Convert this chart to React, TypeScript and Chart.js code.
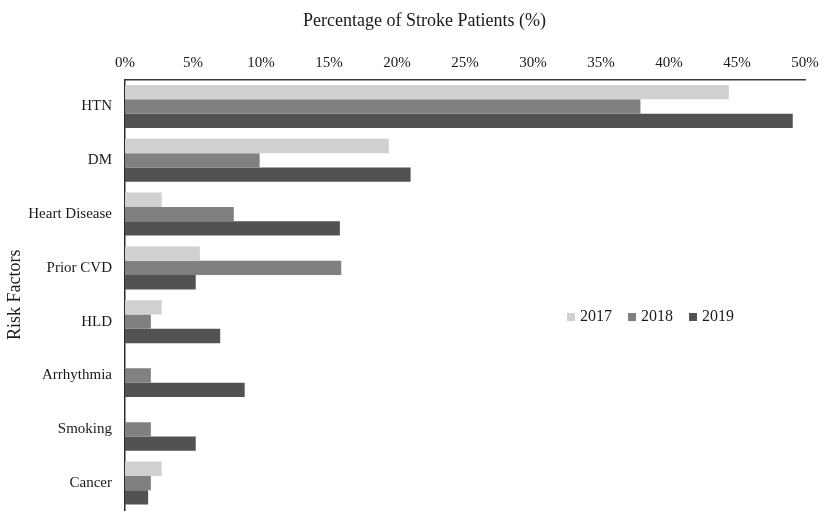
import React, { useEffect, useRef } from "react";
import { Chart, registerables } from "chart.js";

Chart.register(...registerables);

const categories = ["HTN", "DM", "Heart Disease", "Prior CVD", "HLD", "Arrhythmia", "Smoking", "Cancer"];
const years = ["2017", "2018", "2019"];
const values2017 = [44.4, 19.4, 2.7, 5.5, 2.7, 0, 0, 2.7];
const values2018 = [37.9, 9.9, 8.0, 15.9, 1.9, 1.9, 1.9, 1.9];
const values2019 = [49.1, 21.0, 15.8, 5.2, 7.0, 8.8, 5.2, 1.7];
const yearColors = ["#d0d0d0", "#808080", "#525252"];

const FONT = "'Liberation Serif', 'Times New Roman', serif";
const TEXT = "#1a1a1a";

// legend drawn inside the plot, in one row
const insideLegend = {
  id: "insideLegend",
  afterDraw(chart: any, _args: any, opts: any) {
    const { ctx } = chart;
    ctx.save();
    ctx.font = `${opts.size}px ${FONT}`;
    ctx.textBaseline = "middle";
    ctx.textAlign = "left";
    let x = opts.x;
    chart.data.datasets.forEach((ds: any) => {
      ctx.fillStyle = ds.backgroundColor;
      ctx.fillRect(x, opts.y - opts.box / 2, opts.box, opts.box);
      x += opts.box + opts.gap;
      ctx.fillStyle = TEXT;
      ctx.fillText(ds.label, x, opts.y);
      x += ctx.measureText(ds.label).width + opts.spacing;
    });
    ctx.restore();
  },
};

// the source figure has its title a little right of the canvas centre
const titleShift = {
  id: "titleShift",
  afterLayout(chart: any, _args: any, opts: any) {
    const t = chart.titleBlock;
    if (!t) return;
    t.left += opts.dx;
    t.right += opts.dx;
  },
};

const App: React.FC = () => {
  const canvasRef = useRef<HTMLCanvasElement | null>(null);
  const chartRef = useRef<Chart | null>(null);

  useEffect(() => {
    const ctx = canvasRef.current?.getContext("2d");
    if (!ctx) return;
    chartRef.current?.destroy();

    const series = [values2017, values2018, values2019];

    chartRef.current = new Chart(ctx, {
      type: "bar",
      data: {
        labels: categories,
        datasets: years.map((y, i) => ({
          label: y,
          data: series[i],
          backgroundColor: yearColors[i],
          borderWidth: 0,
          categoryPercentage: 0.8,
          barPercentage: 1.0,
        })),
      },
      options: {
        indexAxis: "y",
        animation: false,
        responsive: true,
        maintainAspectRatio: false,
        layout: { padding: { left: 0, right: 24, top: 0, bottom: 15 } },
        plugins: {
          legend: { display: false },
          tooltip: { enabled: false },
          title: {
            display: true,
            text: "Percentage of Stroke Patients (%)",
            color: TEXT,
            font: { family: FONT, size: 18, weight: "normal" },
            padding: { top: 10, bottom: 14 },
          },
          insideLegend: { x: 567, y: 317, box: 8, gap: 5, spacing: 16, size: 16 },
          titleShift: { dx: 22 },
        } as any,
        scales: {
          x: {
            position: "top",
            min: 0,
            max: 50,
            grid: { display: false, drawTicks: false },
            border: { display: true, color: "#3a3a3a", width: 1.5 },
            ticks: {
              stepSize: 5,
              padding: 8,
              color: TEXT,
              font: { family: FONT, size: 15 },
              callback: (v: any) => `${v}%`,
            },
          },
          y: {
            grid: { display: false, drawTicks: false },
            border: { display: true, color: "#2a2a2a", width: 1.5 },
            afterFit: (scale: any) => {
              scale.width = 125;
              scale.paddingTop = 0;
              scale.paddingBottom = 0;
            },
            ticks: {
              padding: 13,
              color: TEXT,
              font: { family: FONT, size: 15 },
            },
            title: {
              display: true,
              text: "Risk Factors",
              color: TEXT,
              font: { family: FONT, size: 18, weight: "normal" },
            },
          },
        },
      },
      plugins: [insideLegend, titleShift],
    });

    return () => {
      chartRef.current?.destroy();
      chartRef.current = null;
    };
  }, []);

  return (
    <div style={{ position: "absolute", left: 0, top: 0, width: 829, height: 525, background: "#fff" }}>
      <canvas ref={canvasRef}></canvas>
    </div>
  );
};

export default App;
